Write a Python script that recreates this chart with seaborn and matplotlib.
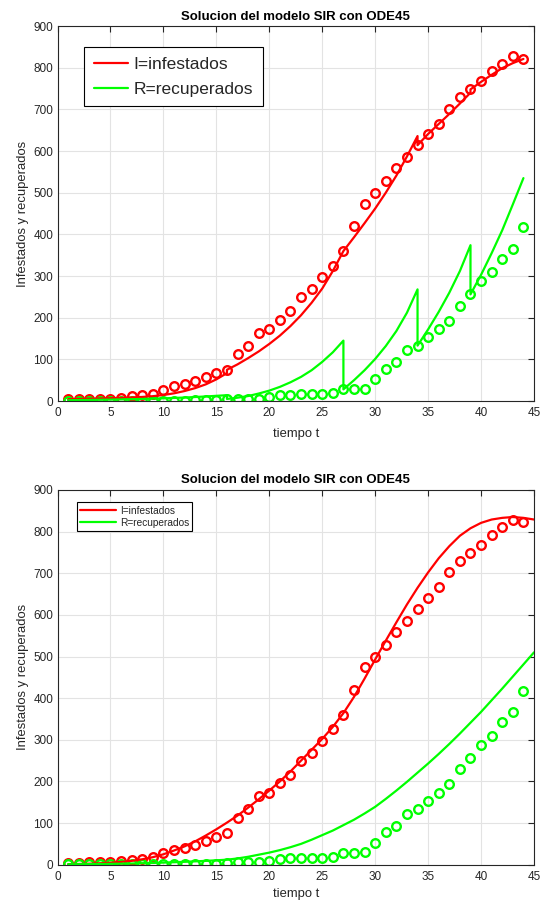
import numpy as np
import pandas as pd
import matplotlib
matplotlib.use('Agg')
import matplotlib.pyplot as plt
import seaborn as sns

# Observed data (days 1..44)
t_obs = list(range(1, 45))
infected_obs = [5, 5, 6, 6, 6, 8, 11, 14, 18, 27, 35, 41, 48, 57, 67, 75, 113, 133, 164, 173,
                195, 216, 249, 269, 298, 325, 360, 420, 474, 500, 528, 560, 586, 614, 641, 666,
                702, 729, 748, 768, 792, 810, 829, 822]
recovered_obs = [1, 1, 1, 1, 1, 1, 1, 1, 1, 1, 1, 1, 2, 2, 2, 5, 6, 6, 6, 10,
                 14, 15, 17, 17, 17, 19, 28, 29, 30, 53, 78, 93, 122, 133, 153, 173,
                 193, 229, 256, 287, 310, 342, 366, 417]

# Top plot: piecewise ODE45 solutions restarted at observed points
seg_times = [list(range(1, 17)), list(range(16, 28)), list(range(27, 35)),
             list(range(34, 40)), list(range(39, 45))]
seg_infected = [
    [4.5, 5, 5.5, 6.1, 6.8, 7.6, 8.6, 9.8, 11.6, 14.5, 18.5, 24, 31, 40, 52, 67],
    [75, 88, 103, 119, 137, 157, 180, 206, 236, 270, 312, 360],
    [360, 393, 427, 462, 500, 541, 587, 636],
    [614, 641, 665, 689, 714, 740],
    [748, 766, 783, 799, 811, 821],
]
seg_recovered = [
    [2, 2.3, 2.6, 3, 3.4, 3.9, 4.4, 5, 5.7, 6.5, 7.4, 8.4, 9.6, 11, 12.5, 14],
    [5, 8, 12, 18, 25, 34, 45, 58, 74, 94, 117, 145],
    [28, 50, 74, 101, 132, 168, 212, 268],
    [133, 172, 214, 260, 312, 374],
    [256, 303, 355, 410, 472, 535],
]

# Bottom plot: single fitted ODE45 solution (days 1..45)
t_fit = list(range(1, 46))
infected_fit = [1.2, 1.7, 2.4, 3.4, 4.7, 6.6, 9.2, 13, 18, 25, 34, 44, 56, 70, 85, 101, 118, 137,
                157, 178, 200, 224, 250, 276, 302, 331, 364, 403, 447, 493, 538, 582, 625, 665,
                702, 736, 765, 790, 808, 821, 829, 833, 835, 833, 829]
recovered_fit = [1, 1.2, 1.4, 1.7, 2, 2.4, 2.9, 3.5, 4.2, 5, 5.9, 6.9, 8, 9.2, 10.5, 12, 15, 19,
                 24, 29, 35, 42, 50, 60, 71, 82, 95, 108, 123, 139, 158, 178, 199, 221, 243, 266,
                 290, 315, 341, 367, 395, 423, 452, 481, 510]

RED = '#ff0000'
GREEN = '#00ff00'
DARK = '#262626'

sns.set_theme(style='white')
plt.rcParams['font.family'] = ['Liberation Sans', 'DejaVu Sans']

fig = plt.figure(figsize=(5.41, 9.01), dpi=100)
ax1 = fig.add_axes([0.1063, 0.5549, 0.8808, 0.4162])
ax2 = fig.add_axes([0.1063, 0.0403, 0.8808, 0.4159])


def style_axes(ax, title_pad, xlabel_pad):
    ax.set_xlim(0, 45)
    ax.set_ylim(0, 900)
    ax.set_xticks(range(0, 46, 5))
    ax.set_yticks(range(0, 901, 100))
    ax.grid(True, color='#e3e3e3', linewidth=0.8)
    ax.set_axisbelow(True)
    ax.tick_params(direction='in', top=True, right=True, length=4, width=0.8,
                   colors=DARK, labelsize=8.5, pad=3)
    ax.tick_params(axis='x', pad=4.5)
    for s in ax.spines.values():
        s.set_color(DARK)
        s.set_linewidth(0.8)
    ax.set_title('Solucion del modelo SIR con ODE45', fontsize=9.5, fontweight='bold',
                 color='black', pad=title_pad)
    ax.set_xlabel('tiempo t', fontsize=9.4, color=DARK, labelpad=xlabel_pad)
    ax.set_ylabel('Infestados y recuperados', fontsize=9.4, color=DARK, labelpad=3)


def draw_obs(ax):
    sns.lineplot(x=t_obs, y=infected_obs, ax=ax, linestyle='', marker='o',
                 markerfacecolor='none', markeredgecolor=RED, markeredgewidth=1.7,
                 markersize=6.2, errorbar=None, sort=False)
    sns.lineplot(x=t_obs, y=recovered_obs, ax=ax, linestyle='', marker='o',
                 markerfacecolor='none', markeredgecolor=GREEN, markeredgewidth=1.7,
                 markersize=6.2, errorbar=None, sort=False)


# ---- top panel: segments joined into one trace, as ODE45 output concatenated ----
top = pd.DataFrame({
    't': [v for seg in seg_times for v in seg],
    'I': [v for seg in seg_infected for v in seg],
    'R': [v for seg in seg_recovered for v in seg],
})
draw_obs(ax1)
sns.lineplot(data=top, x='t', y='I', ax=ax1, color=RED, linewidth=1.6,
             errorbar=None, sort=False, estimator=None)
sns.lineplot(data=top, x='t', y='R', ax=ax1, color=GREEN, linewidth=1.6,
             errorbar=None, sort=False, estimator=None)
style_axes(ax1, 4, 6)
h1 = [plt.Line2D([], [], color=RED, linewidth=1.6),
      plt.Line2D([], [], color=GREEN, linewidth=1.6)]
leg1 = ax1.legend(h1, ['I=infestados', 'R=recuperados'], loc='upper left',
                  bbox_to_anchor=(0.056, 0.943), borderaxespad=0, fontsize=12.5,
                  frameon=True, fancybox=False, edgecolor='black', framealpha=1,
                  handlelength=2.0, handletextpad=0.3, labelspacing=0.55,
                  borderpad=0.55)
leg1.get_frame().set_linewidth(0.8)

# ---- bottom panel ----
draw_obs(ax2)
sns.lineplot(x=t_fit, y=infected_fit, ax=ax2, color=RED, linewidth=1.6,
             errorbar=None, sort=False)
sns.lineplot(x=t_fit, y=recovered_fit, ax=ax2, color=GREEN, linewidth=1.6,
             errorbar=None, sort=False)
style_axes(ax2, 5, 3.5)
h2 = [plt.Line2D([], [], color=RED, linewidth=1.6),
      plt.Line2D([], [], color=GREEN, linewidth=1.6)]
leg2 = ax2.legend(h2, ['I=infestados', 'R=recuperados'], loc='upper left',
                  bbox_to_anchor=(0.040, 0.967), borderaxespad=0, fontsize=7.3,
                  frameon=True, fancybox=False, edgecolor='black', framealpha=1,
                  handlelength=3.5, handletextpad=0.4, labelspacing=0.2,
                  borderpad=0.35)
leg2.get_frame().set_linewidth(0.8)

fig.savefig('out.png', dpi=100)
